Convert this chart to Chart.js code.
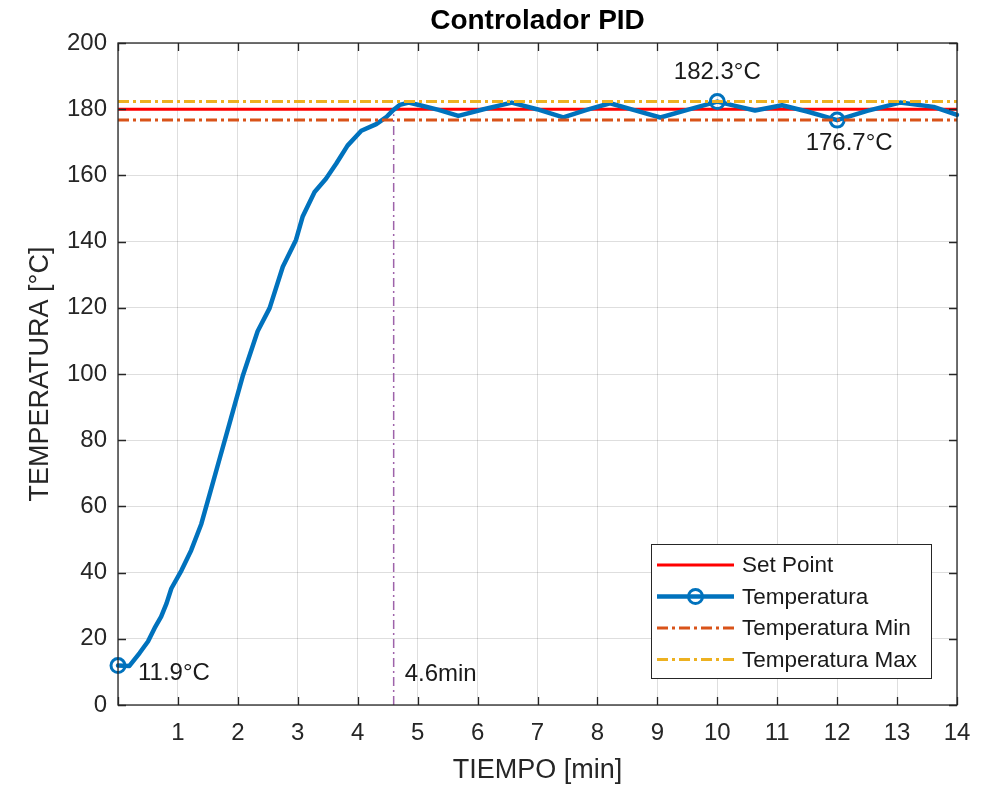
<!DOCTYPE html>
<html>
<head>
<meta charset="utf-8">
<script src="https://cdn.jsdelivr.net/npm/chart.js@4.4.0/dist/chart.umd.min.js"></script>
<style>
  html, body { margin: 0; padding: 0; background: #fff; }
  #wrap { width: 997px; height: 787px; }
</style>
</head>
<body>
<div id="wrap"><canvas id="pidchart"></canvas></div>
<script>
// datos
const tiempo = [0, 0.19, 0.36, 0.5, 0.61, 0.72, 0.81, 0.89, 1.06, 1.22, 1.39, 1.53, 1.7, 1.86,
  2.08, 2.33, 2.53, 2.75, 2.97, 3.08, 3.28, 3.47, 3.64, 3.83, 4.06, 4.31, 4.47, 4.58, 4.7, 4.85,
  5.04, 5.35, 5.68, 6.1, 6.57, 6.99, 7.43, 7.82, 8.21, 8.6, 9.05, 9.5, 10, 10.3, 10.63, 11.08,
  11.5, 12, 12.5, 13.05, 13.61, 14];
const temperatura = [11.9, 11.8, 15.7, 19.2, 23.2, 26.7, 30.7, 35.2, 40.7, 46.7, 54.7, 63.7, 74.7, 85,
  99.3, 112.9, 119.9, 132.4, 140.5, 147.5, 155, 159, 163.5, 169, 173.5, 175.5, 177.5, 179.5, 181.3, 182,
  181.2, 179.8, 178, 180, 182, 180, 177.5, 179.8, 181.8, 179.8, 177.5, 179.8, 182.3, 181, 179.6, 181.2,
  179.3, 176.7, 179.5, 182, 180.7, 178.3];
const setPoint = 180;
const tempMin = 176.7;
const tempMax = 182.3;
const tiempoEstable = 4.6;
const lineaEstable = [0, 178.5];
const marcas = [0, 10, 12];
const xTicks = [0, 1, 2, 3, 4, 5, 6, 7, 8, 9, 10, 11, 12, 13, 14];
const yTicks = [0, 20, 40, 60, 80, 100, 120, 140, 160, 180, 200];
const titulo = 'Controlador PID';

const FONT = '"Liberation Sans", Arial, Helvetica, sans-serif';
Chart.defaults.font.family = FONT;

const marcaIdx = marcas.map(m => tiempo.indexOf(m));
const puntos = tiempo.map((t, i) => ({x: t, y: temperatura[i]}));
const horizontal = v => [{x: xTicks[0], y: v}, {x: xTicks[xTicks.length - 1], y: v}];

const marcoPlugin = {
  id: 'marco',
  afterDraw(chart) {
    const {ctx, chartArea: a, scales: {x, y}} = chart;
    ctx.save();
    // marco y marcas hacia adentro
    ctx.strokeStyle = '#262626';
    ctx.lineWidth = 1.3;
    ctx.beginPath();
    xTicks.forEach(v => {
      const px = Math.round(x.getPixelForValue(v)) + 0.5;
      ctx.moveTo(px, a.bottom); ctx.lineTo(px, a.bottom - 8);
      ctx.moveTo(px, a.top); ctx.lineTo(px, a.top + 8);
    });
    yTicks.forEach(v => {
      const py = Math.round(y.getPixelForValue(v)) + 0.5;
      ctx.moveTo(a.left, py); ctx.lineTo(a.left + 8, py);
      ctx.moveTo(a.right, py); ctx.lineTo(a.right - 8, py);
    });
    ctx.stroke();
    ctx.strokeRect(a.left, a.top, a.right - a.left, a.bottom - a.top);

    // titulo centrado sobre el area de la grafica
    ctx.fillStyle = '#000';
    ctx.font = 'bold 28px ' + FONT;
    ctx.textAlign = 'center';
    ctx.textBaseline = 'middle';
    ctx.fillText(titulo, (a.left + a.right) / 2, 21);

    // etiquetas de datos
    ctx.fillStyle = '#1a1a1a';
    ctx.font = '24px ' + FONT;
    const [i0, i1, i2] = marcaIdx;
    ctx.textAlign = 'left';
    ctx.fillText(temperatura[i0].toFixed(1) + '°C', x.getPixelForValue(tiempo[i0]) + 20, y.getPixelForValue(temperatura[i0]) + 8);
    ctx.fillText(tiempoEstable + 'min', x.getPixelForValue(tiempoEstable) + 11, y.getPixelForValue(0) - 31);
    ctx.textAlign = 'center';
    ctx.fillText(temperatura[i1].toFixed(1) + '°C', x.getPixelForValue(tiempo[i1]), y.getPixelForValue(temperatura[i1]) - 29);
    ctx.fillText(temperatura[i2].toFixed(1) + '°C', x.getPixelForValue(tiempo[i2]) + 12, y.getPixelForValue(temperatura[i2]) + 23);

    // leyenda
    const items = chart.data.datasets.filter(d => d.label);
    const bx = 651, by = 544, bw = 280, bh = 134;
    ctx.fillStyle = '#fff';
    ctx.fillRect(bx, by, bw, bh);
    ctx.strokeStyle = '#262626';
    ctx.lineWidth = 1;
    ctx.strokeRect(bx + 0.5, by + 0.5, bw, bh);
    ctx.font = '22.5px ' + FONT;
    ctx.textAlign = 'left';
    items.forEach((d, k) => {
      const ry = by + 21 + k * 31.5;
      ctx.strokeStyle = d.borderColor;
      ctx.lineWidth = d.borderWidth;
      ctx.setLineDash(d.borderDash || []);
      ctx.beginPath();
      ctx.moveTo(bx + 6, ry); ctx.lineTo(bx + 83, ry);
      ctx.stroke();
      ctx.setLineDash([]);
      if (d.conMarca) {
        ctx.lineWidth = 3;
        ctx.beginPath();
        ctx.arc(bx + 44.5, ry, 7, 0, Math.PI * 2);
        ctx.stroke();
      }
      ctx.fillStyle = '#1a1a1a';
      ctx.fillText(d.label, bx + 91, ry + 1);
    });
    ctx.restore();
  }
};

new Chart(document.getElementById('pidchart'), {
  type: 'line',
  plugins: [marcoPlugin],
  data: {
    datasets: [
      {
        label: 'Set Point',
        data: horizontal(setPoint),
        borderColor: '#FF0000',
        borderWidth: 3,
        pointRadius: 0,
        order: 4
      },
      {
        label: 'Temperatura',
        data: puntos,
        borderColor: '#0072BD',
        borderWidth: 4.5,
        borderJoinStyle: 'round',
        borderCapStyle: 'round',
        pointRadius: ctx => marcaIdx.includes(ctx.dataIndex) ? 7 : 0,
        pointBorderWidth: 3,
        pointBorderColor: '#0072BD',
        pointBackgroundColor: 'rgba(0,0,0,0)',
        conMarca: true,
        clip: 12,
        order: 3
      },
      {
        label: 'Temperatura Min',
        data: horizontal(tempMin),
        borderColor: '#D95319',
        borderWidth: 3,
        borderDash: [11, 4, 3, 4],
        pointRadius: 0,
        order: 2
      },
      {
        label: 'Temperatura Max',
        data: horizontal(tempMax),
        borderColor: '#EDB120',
        borderWidth: 3,
        borderDash: [11, 4, 3, 4],
        pointRadius: 0,
        order: 1
      },
      {
        data: lineaEstable.map(v => ({x: tiempoEstable, y: v})),
        borderColor: 'rgba(126,47,142,0.75)',
        borderWidth: 1.5,
        borderDash: [9, 4, 2, 4],
        pointRadius: 0,
        order: 0
      }
    ]
  },
  options: {
    responsive: true,
    maintainAspectRatio: false,
    animation: false,
    layout: {
      padding: {top: 43, right: 40, bottom: 0, left: 0}
    },
    plugins: {
      legend: {display: false},
      tooltip: {enabled: false},
      title: {display: false}
    },
    scales: {
      x: {
        type: 'linear',
        min: 0,
        max: 14,
        afterFit: s => { s.height = 82; },
        border: {display: false},
        grid: {color: 'rgba(0,0,0,0.13)', drawTicks: false},
        ticks: {
          stepSize: 1,
          padding: 14,
          color: '#262626',
          font: {size: 24},
          callback: v => v === 0 ? '' : v
        },
        title: {
          display: true,
          text: 'TIEMPO [min]',
          color: '#262626',
          font: {size: 27},
          padding: {top: 0, bottom: 0}
        }
      },
      y: {
        min: 0,
        max: 200,
        afterFit: s => { s.width = 118; },
        border: {display: false},
        grid: {color: 'rgba(0,0,0,0.13)', drawTicks: false},
        ticks: {
          stepSize: 20,
          padding: 11,
          color: '#262626',
          font: {size: 24}
        },
        title: {
          display: true,
          text: 'TEMPERATURA [°C]',
          color: '#262626',
          font: {size: 27},
          padding: {top: 24, bottom: 0}
        }
      }
    }
  }
});
</script>
</body>
</html>
